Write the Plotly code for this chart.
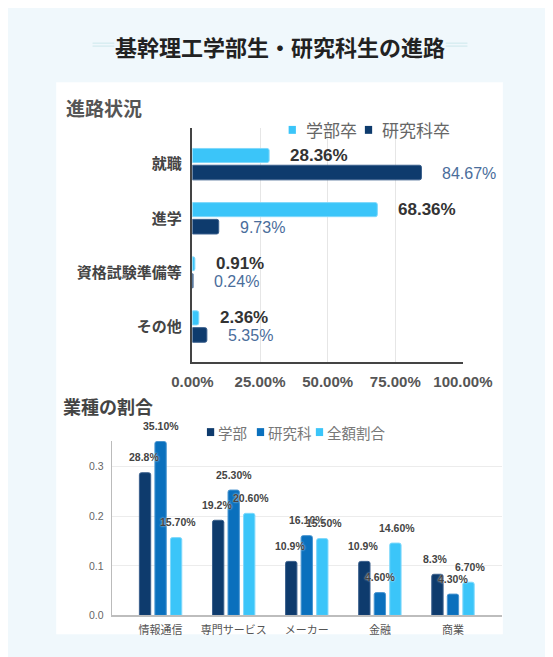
import plotly.graph_objects as go

W, H = 553, 657

# 進路状況 (%)
course_cats = ["就職", "進学", "資格試験準備等", "その他"]
undergrad = [28.36, 68.36, 0.91, 2.36]
graduate = [84.67, 9.73, 0.24, 5.35]
pct_ticks = [0, 25, 50, 75, 100]
course_series = ["学部卒", "研究科卒"]

# 業種の割合
industry_cats = ["情報通信", "専門サービス", "メーカー", "金融", "商業"]
ind_undergrad = [0.288, 0.192, 0.109, 0.109, 0.083]
ind_graduate = [0.351, 0.253, 0.161, 0.046, 0.043]
ind_total = [0.157, 0.206, 0.155, 0.146, 0.067]
industry_series = ["学部", "研究科", "全額割合"]

LIGHT = "#3bc5f9"
NAVY = "#0e3b6d"
MID = "#0a70bd"
FONT = "Liberation Sans, Arial, Noto Sans CJK JP, sans-serif"
CJK = "Noto Sans CJK JP, sans-serif"


def px_x(x):
    return x / W


def px_y(y):
    return 1 - y / H


fig = go.Figure()

# top chart: horizontal bars
fig.add_trace(go.Bar(
    y=course_cats, x=undergrad, orientation="h", name=course_series[0],
    marker=dict(color=LIGHT, cornerradius=2, line=dict(color="#7fd8fb", width=1)),
    width=0.26, offset=-0.29, xaxis="x", yaxis="y",
    showlegend=False, hoverinfo="skip",
))
fig.add_trace(go.Bar(
    y=course_cats, x=graduate, orientation="h", name=course_series[1],
    marker=dict(color=NAVY, cornerradius=2, line=dict(color="#3a5f8c", width=1)),
    width=0.27, offset=0.02, xaxis="x", yaxis="y",
    showlegend=False, hoverinfo="skip",
))

# bottom chart: grouped columns
for name, vals, color, edge, off in [
    (industry_series[0], ind_undergrad, NAVY, "#3a5f8c", -0.29),
    (industry_series[1], ind_graduate, MID, "#4a95d0", -0.0775),
    (industry_series[2], ind_total, LIGHT, "#7fd8fb", 0.135),
]:
    fig.add_trace(go.Bar(
        x=industry_cats, y=vals, name=name,
        marker=dict(color=color, cornerradius=2, line=dict(color=edge, width=1)),
        width=0.155, offset=off, xaxis="x2", yaxis="y2",
        showlegend=False, hoverinfo="skip",
    ))

annotations = []
for cat, v in zip(course_cats, undergrad):
    annotations.append(dict(
        x=v, y=cat, xref="x", yref="y", text=f"<b>{v:.2f}%</b>",
        xanchor="left", yanchor="middle", xshift=19, yshift=9, showarrow=False,
        font=dict(family=FONT, size=17, color="#333333"),
    ))
for cat, v in zip(course_cats, graduate):
    annotations.append(dict(
        x=v, y=cat, xref="x", yref="y", text=f"{v:.2f}%",
        xanchor="left", yanchor="middle", xshift=19, yshift=-9, showarrow=False,
        font=dict(family=FONT, size=16, color="#4a6d9b"),
    ))

for vals, shift, fmt in [
    (ind_undergrad, -17, "{:.1f}%"),
    (ind_graduate, 0, "{:.2f}%"),
    (ind_total, 17, "{:.2f}%"),
]:
    for cat, v in zip(industry_cats, vals):
        annotations.append(dict(
            x=cat, y=v, xref="x2", yref="y2", text="<b>" + fmt.format(v * 100) + "</b>",
            xanchor="center", yanchor="middle", xshift=shift, yshift=15.5,
            showarrow=False,
            font=dict(family=FONT, size=10.5, color="#444444",
                      shadow="0px 0px 2px white"),
        ))

annotations += [
    dict(x=px_x(277), y=px_y(38), xref="paper", yref="paper",
         text="<b>基幹理工学部生・研究科生の進路</b>", showarrow=False,
         xanchor="center", yanchor="middle",
         font=dict(family=CJK, size=22, color="#222222")),
    dict(x=px_x(39), y=px_y(100), xref="paper", yref="paper",
         text="<b>進路状況</b>", showarrow=False,
         xanchor="left", yanchor="middle",
         font=dict(family=CJK, size=19, color="#555555")),
    dict(x=px_x(35), y=px_y(402), xref="paper", yref="paper",
         text="<b>業種の割合</b>", showarrow=False,
         xanchor="left", yanchor="middle",
         font=dict(family=CJK, size=18, color="#444444")),
]

shapes = [
    dict(type="rect", xref="paper", yref="paper", layer="below",
         x0=px_x(30), x1=px_x(522), y0=px_y(632), y1=px_y(75),
         fillcolor="white", line=dict(width=0)),
]
for x0, x1 in [(70, 94), (459, 483)]:
    for yy in (35.5, 38.5):
        shapes.append(dict(type="line", xref="paper", yref="paper",
                           x0=px_x(x0), x1=px_x(x1), y0=px_y(yy), y1=px_y(yy),
                           line=dict(color="#d8edf1", width=1.5)))

# legends drawn as key squares + labels
legend_rows = [
    (course_series, [LIGHT, NAVY], [286, 370], 123, 8, 17, "#666666"),
    (industry_series, [NAVY, MID, LIGHT], [196, 251, 316], 428, 8, 14.5, "#777777"),
]
for names, colors, xs, yc, sq, fsize, fcolor in legend_rows:
    for name, color, x0 in zip(names, colors, xs):
        shapes.append(dict(type="rect", xref="paper", yref="paper",
                           x0=px_x(x0), x1=px_x(x0 + sq),
                           y0=px_y(yc + sq / 2), y1=px_y(yc - sq / 2),
                           fillcolor=color, line=dict(width=0)))
        gap = 9 if fsize > 15 else 2
        annotations.append(dict(
            x=px_x(x0 + sq + gap), y=px_y(yc), xref="paper", yref="paper",
            text=name, showarrow=False, xanchor="left", yanchor="middle",
            font=dict(family=CJK, size=fsize, color=fcolor),
        ))

fig.update_layout(
    width=W, height=H,
    margin=dict(l=0, r=0, t=0, b=0),
    paper_bgcolor="#f0f8fc",
    plot_bgcolor="white",
    font=dict(family=FONT),
    barmode="group",
    showlegend=False,
    annotations=annotations,
    shapes=shapes,
    xaxis=dict(
        domain=[px_x(180), px_x(478)], anchor="y", range=[0, 100],
        tickvals=pct_ticks, ticktext=[f"{t:.2f}%" for t in pct_ticks],
        showgrid=True, gridcolor="#e6e6e6", zeroline=False,
        showline=True, linecolor="#444444", linewidth=1.5,
        ticks="", ticklabelstandoff=6,
        tickfont=dict(family=FONT, size=15, color="#555555", weight="bold"),
    ),
    yaxis=dict(
        domain=[px_y(357), px_y(121)], anchor="x", type="category",
        range=[3.65, -0.67], showgrid=False, zeroline=False,
        showline=True, linecolor="#444444", linewidth=1.5,
        ticks="", ticklabelstandoff=6,
        tickfont=dict(family=CJK, size=15, color="#444444", weight="bold"),
    ),
    xaxis2=dict(
        domain=[px_x(91), px_x(521)], anchor="y2", type="category",
        range=[-0.67, 4.67], showgrid=False, zeroline=False,
        showline=True, linecolor="#bdbdbd", linewidth=2,
        ticks="", ticklabelstandoff=3,
        tickfont=dict(family=CJK, size=11, color="#555555"),
    ),
    yaxis2=dict(
        domain=[px_y(613), px_y(437)], anchor="x2", range=[0, 0.352],
        tickvals=[0, 0.1, 0.2, 0.3], tickformat=".1f",
        showgrid=True, gridcolor="#ececec", zeroline=False,
        showline=True, linecolor="#bbbbbb", linewidth=1,
        ticks="", ticklabelstandoff=5,
        tickfont=dict(family=FONT, size=10.5, color="#666666"),
    ),
)

fig.write_html("out.html")
